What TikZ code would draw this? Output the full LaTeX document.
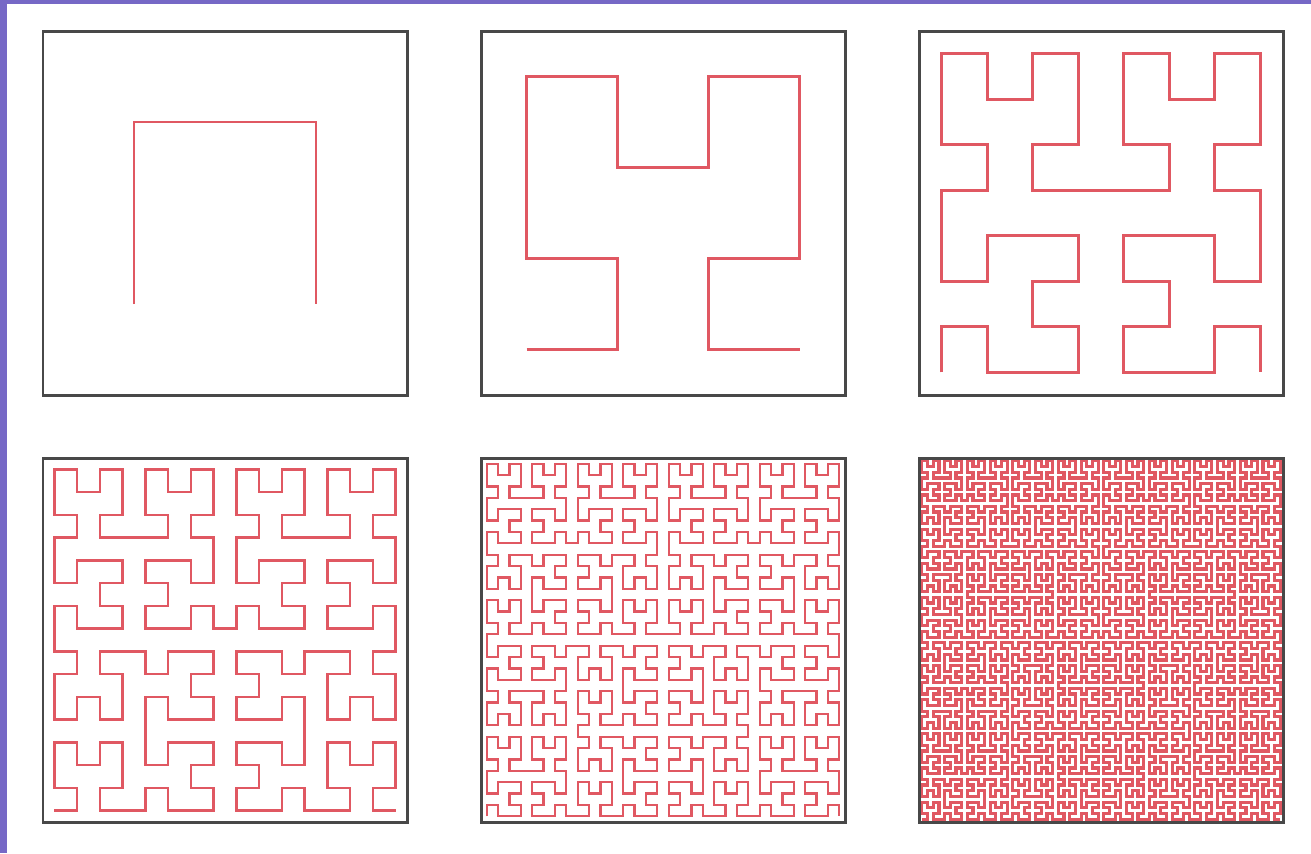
\documentclass[tikz,border=0pt]{standalone}
\usetikzlibrary{lindenmayersystems}

\definecolor{slidebg}{RGB}{118,104,198}
\definecolor{curvered}{RGB}{224,88,98}
\definecolor{framegray}{RGB}{72,72,72}

\pgfdeclarelindenmayersystem{Hilbert curve}{
  \rule{L -> +RF-LFL-FR+}
  \rule{R -> -LF+RFR+FL-}}

\begin{document}
\begin{tikzpicture}[
  curve/.style={curvered,line join=miter,line cap=butt},
  frame/.style={framegray,line width=0.85pt}]
% slide background
\fill[slidebg] (0,0) rectangle (13.11,8.53);
\fill[white] (0.07,0) rectangle (13.11,8.49);
\useasboundingbox (0,0) rectangle (13.11,8.53);

% orders 1 to 6, box corner and pen width
\foreach \n/\bx/\by/\lw in {1/0.43/4.58/0.8pt,2/4.81/4.58/0.8pt,3/9.19/4.58/0.8pt,
                            4/0.43/0.31/0.75pt,5/4.81/0.31/0.65pt,6/9.19/0.31/0.9pt}{
  \pgfmathsetmacro{\s}{3.64/2^\n}
  \begin{scope}[shift={(\bx+\s/2,\by+\s/2)}]
    \draw[curve,line width=\lw,
          l-system={Hilbert curve,axiom=L,order=\n,angle=90,step=\s cm}]
          (0,0) l-system;
  \end{scope}
  \draw[frame] (\bx,\by) rectangle ++(3.64,3.64);
}

\end{tikzpicture}
\end{document}
